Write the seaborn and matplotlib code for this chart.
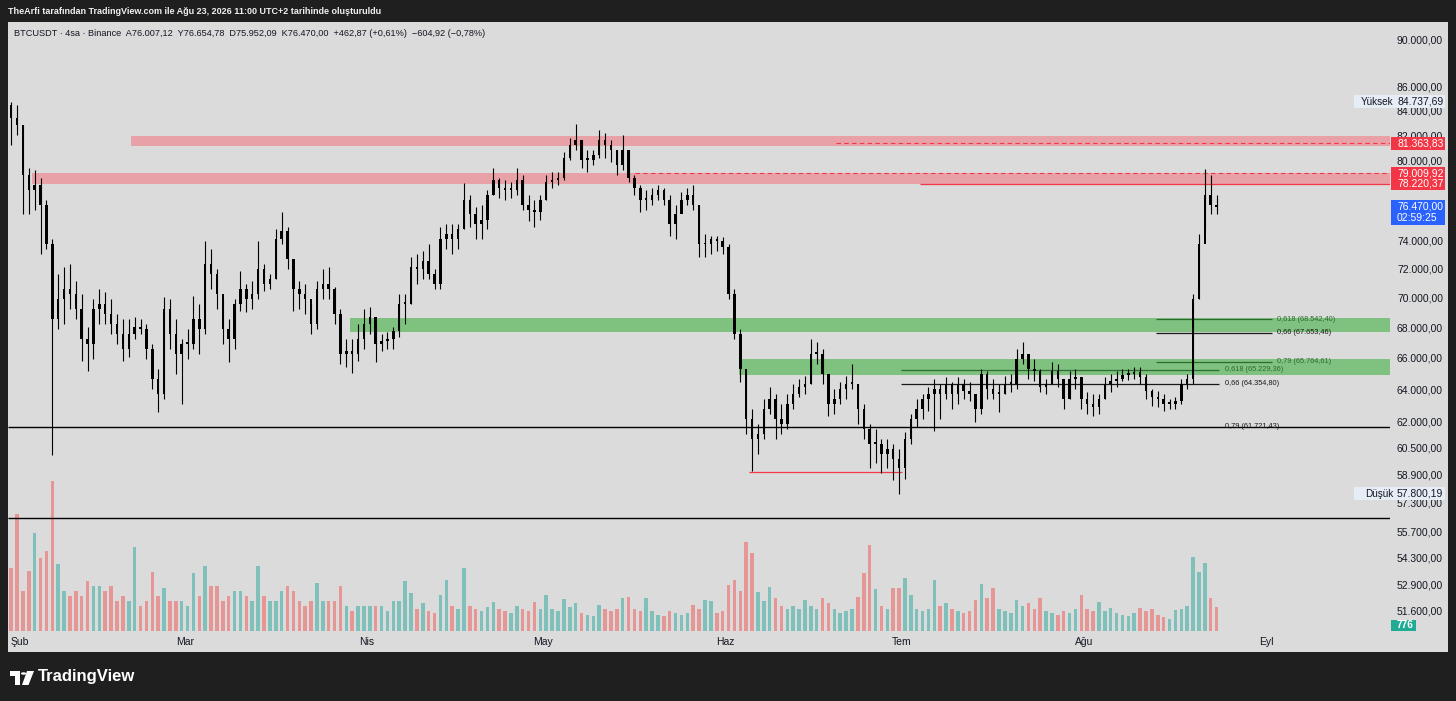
import numpy as np
import pandas as pd
import matplotlib
matplotlib.use("Agg")
import matplotlib.pyplot as plt
import seaborn as sns
from matplotlib.patches import Rectangle, Circle, Polygon
from matplotlib.ticker import NullLocator, FixedLocator

# ---------------- data (daily) ----------------
first_day = "2026-01-30"
open_first_k = 84.48
high_k = [84.74, 84.48, 82.85, 79.46, 79.30, 78.69, 77.02, 74.09, 71.61, 72.10,
          72.31, 71.12, 70.23, 68.02, 69.89, 70.58, 70.37, 69.89, 68.89, 68.55,
          68.55, 68.69, 68.55, 68.22, 66.91, 65.29, 70.02, 69.89, 68.55, 67.23,
          67.88, 70.09, 69.56, 73.95, 73.37, 71.96, 69.89, 68.55, 69.89, 71.82,
          70.92, 71.12, 73.95, 72.31, 71.61, 74.81, 76.06, 74.96, 72.31, 71.12,
          70.92, 69.56, 71.12, 71.96, 72.10, 70.72, 69.22, 67.23, 67.23, 68.22,
          69.22, 69.36, 68.55, 67.56, 67.69, 68.02, 70.23, 70.23, 72.81, 73.02,
          73.23, 73.73, 71.96, 74.96, 75.18, 75.18, 75.18, 78.31, 77.40, 76.43,
          76.65, 77.78, 79.46, 78.69, 78.54, 78.39, 79.46, 78.92, 77.40, 77.02,
          77.40, 78.92, 79.15, 79.15, 80.70, 81.81, 82.90, 81.65, 80.86, 80.86,
          82.45, 82.21, 81.65, 80.86, 82.05, 80.86, 78.92, 78.16, 77.78, 77.93,
          78.16, 77.93, 77.40, 76.65, 77.63, 77.93, 78.16, 76.65, 74.45, 74.31,
          74.31, 74.23, 73.73, 70.58, 67.88, 65.29, 62.80, 61.89, 63.42, 64.16,
          63.73, 63.11, 63.73, 64.35, 64.66, 64.85, 67.23, 67.03, 66.58, 64.98,
          64.04, 64.47, 64.85, 65.61, 64.35, 63.11, 61.89, 61.59, 61.00, 61.00,
          60.70, 60.41, 61.41, 62.50, 63.42, 63.73, 64.16, 64.66, 64.35, 64.79,
          64.47, 64.79, 64.66, 64.47, 63.73, 65.29, 65.16, 64.66, 64.35, 64.85,
          64.98, 66.58, 67.03, 66.26, 65.93, 65.29, 64.66, 65.74, 65.61, 64.35,
          65.16, 65.29, 64.79, 63.85, 63.73, 63.73, 64.79, 64.98, 65.16, 65.29,
          65.29, 65.42, 65.42, 64.98, 64.04, 63.92, 63.73, 63.42, 63.54, 64.66,
          64.98, 70.23, 74.45, 79.38, 78.92, 77.40]
low_k = [81.25, 82.05, 75.91, 75.91, 76.28, 73.02, 73.37, 60.06, 67.88, 68.22,
         69.22, 68.55, 65.80, 65.16, 65.93, 68.22, 68.22, 67.56, 66.91, 65.80,
         66.06, 67.23, 67.56, 65.93, 64.04, 62.61, 63.42, 66.58, 64.98, 63.11,
         65.93, 66.58, 66.26, 67.56, 70.58, 69.22, 66.91, 65.74, 66.58, 69.09,
         69.02, 69.22, 69.89, 70.44, 70.58, 71.26, 73.73, 71.96, 69.09, 69.22,
         68.89, 67.56, 67.88, 69.89, 69.89, 68.22, 65.61, 65.42, 65.04, 65.80,
         66.58, 67.56, 65.74, 66.45, 66.58, 66.58, 67.36, 68.22, 69.56, 70.92,
         71.26, 71.26, 70.58, 70.58, 73.37, 73.02, 73.37, 74.81, 74.96, 74.09,
         74.09, 74.81, 77.40, 77.17, 77.02, 77.17, 77.40, 76.28, 75.40, 74.96,
         75.54, 77.02, 77.93, 78.16, 78.54, 80.08, 80.86, 79.46, 79.15, 79.69,
         80.24, 80.24, 79.92, 78.92, 79.30, 78.39, 77.40, 76.13, 76.28, 76.65,
         77.02, 76.65, 74.31, 74.09, 76.13, 76.65, 76.28, 72.81, 72.81, 73.02,
         73.23, 73.02, 69.89, 67.23, 64.47, 61.30, 59.08, 60.12, 61.00, 62.50,
         61.00, 61.30, 61.59, 62.80, 63.54, 63.73, 64.35, 65.61, 64.35, 62.38,
         62.50, 63.11, 63.42, 64.04, 61.89, 61.00, 59.25, 59.54, 58.96, 59.25,
         58.56, 57.80, 58.67, 60.70, 61.71, 62.20, 62.68, 61.47, 62.20, 63.42,
         62.80, 63.11, 63.42, 63.29, 62.01, 62.50, 63.42, 63.42, 62.62, 63.73,
         63.85, 64.04, 65.61, 64.66, 64.54, 63.85, 63.73, 64.35, 64.16, 62.80,
         63.42, 64.04, 62.80, 62.50, 62.38, 62.50, 63.42, 63.85, 64.16, 64.54,
         64.60, 64.66, 64.35, 63.42, 63.00, 62.93, 62.68, 62.80, 62.80, 63.11,
         64.04, 64.35, 69.89, 74.81, 75.91, 75.91]
close_k = [83.41, 82.85, 78.92, 77.78, 78.16, 76.65, 73.73, 68.55, 69.89, 70.58,
           70.23, 69.22, 67.23, 66.91, 69.22, 69.56, 68.89, 68.22, 67.56, 66.58,
           67.56, 68.02, 67.88, 66.58, 64.66, 63.73, 69.22, 67.56, 66.26, 66.91,
           66.91, 68.55, 67.88, 72.31, 71.61, 70.23, 67.88, 67.23, 69.56, 70.58,
           69.89, 70.23, 71.96, 70.92, 71.26, 74.09, 74.67, 72.66, 70.58, 70.23,
           69.89, 68.22, 70.58, 70.92, 70.58, 68.89, 66.26, 66.45, 66.26, 67.23,
           68.22, 68.69, 66.91, 67.10, 67.23, 67.75, 69.56, 69.56, 72.10, 71.96,
           72.52, 71.61, 70.92, 74.09, 74.45, 74.09, 74.81, 77.02, 75.91, 75.18,
           75.54, 77.40, 78.54, 77.93, 77.78, 77.78, 78.54, 76.65, 76.28, 76.13,
           77.02, 78.39, 78.54, 78.69, 80.24, 81.25, 81.65, 80.08, 80.08, 80.47,
           81.65, 81.25, 80.86, 79.69, 80.86, 78.69, 77.93, 77.02, 77.02, 77.40,
           77.78, 77.02, 75.18, 75.91, 77.02, 77.40, 76.65, 73.73, 73.73, 74.09,
           73.95, 73.52, 70.23, 67.56, 65.29, 62.20, 61.00, 61.30, 62.80, 63.42,
           62.20, 61.89, 63.11, 63.73, 64.16, 64.35, 66.26, 66.26, 64.98, 63.11,
           63.42, 64.04, 64.35, 64.35, 62.80, 61.59, 60.70, 60.70, 60.12, 60.41,
           59.82, 59.25, 61.00, 62.20, 62.80, 63.42, 63.73, 64.04, 63.73, 64.35,
           63.73, 64.35, 63.92, 63.73, 62.80, 64.98, 64.04, 63.73, 63.73, 64.35,
           64.35, 65.93, 66.26, 65.29, 65.16, 64.16, 64.35, 65.16, 64.66, 63.42,
           64.66, 64.79, 63.42, 63.11, 62.93, 63.42, 64.35, 64.54, 64.66, 64.92,
           64.98, 65.10, 64.79, 63.92, 63.54, 63.42, 63.11, 63.11, 63.29, 64.35,
           64.66, 69.89, 73.73, 77.40, 76.65, 76.47]
volume = [63, 117, 40, 60, 98, 73, 80, 150, 67, 40, 35, 40, 35, 50, 45, 45, 40, 45,
          30, 35, 30, 84, 25, 30, 59, 35, 43, 30, 30, 30, 25, 58, 35, 65, 45, 45,
          30, 35, 40, 40, 35, 30, 65, 35, 30, 30, 40, 45, 40, 30, 25, 30, 48, 30,
          30, 30, 45, 25, 20, 25, 25, 25, 25, 25, 20, 30, 30, 50, 38, 22, 28, 20,
          18, 36, 51, 25, 22, 63, 25, 22, 20, 24, 29, 22, 20, 18, 25, 22, 20, 29,
          22, 36, 22, 20, 32, 24, 28, 18, 16, 15, 26, 22, 20, 22, 33, 34, 22, 20,
          33, 20, 16, 15, 20, 18, 16, 18, 26, 22, 31, 30, 18, 20, 46, 51, 40, 89,
          78, 39, 30, 44, 33, 25, 22, 25, 22, 31, 25, 22, 33, 28, 22, 18, 20, 22,
          34, 58, 86, 42, 25, 22, 43, 43, 53, 36, 22, 20, 22, 51, 25, 28, 22, 20,
          18, 20, 31, 47, 33, 43, 22, 20, 18, 31, 25, 28, 22, 33, 20, 18, 16, 20,
          18, 22, 36, 22, 20, 29, 20, 23, 18, 16, 15, 18, 23, 20, 22, 16, 14, 12,
          21, 22, 25, 74, 59, 68, 33, 24]

month_labels = ["Şub", "Mar", "Nis", "May", "Haz", "Tem", "Ağu", "Eyl"]
month_starts = ["2026-02-01", "2026-03-01", "2026-04-01", "2026-05-01",
                "2026-06-01", "2026-07-01", "2026-08-01", "2026-09-01"]
price_ticks = [90000, 86000, 84000, 82000, 80000, 74000, 72000, 70000, 68000,
               66000, 64000, 62000, 60500, 58900, 57300, 55700, 54300, 52900, 51600]

resistance_zones = [(81150, 81950, "2026-02-19 21:00"), (78220.37, 79009.92, "2026-02-03 00:00")]
support_zones = [(67700, 68650, "2026-03-29 02:00"), (64910, 65930, "2026-06-03 07:00")]
fib_upper = [("0,618", 68542.40), ("0,66", 67653.46), ("0,79", 65764.61)]
fib_lower = [("0,618", 65229.36), ("0,66", 64354.80), ("0,79", 61721.43)]
red_levels = [81363.83, 79009.92, 78220.37]
last_price, countdown = 76470.00, "02:59:25"
range_high, range_low = 84737.69, 57800.19
base_line = 56450
swing_low_line = 59050
last_volume_label = "776"

# ---------------- helpers ----------------
T0 = pd.Timestamp("2026-02-01")
def dpos(ts):
    return (pd.Timestamp(ts) - T0) / pd.Timedelta(days=1)

def fmt_tr(v):
    s = f"{v:,.2f}"
    return s.replace(",", "#").replace(".", ",").replace("#", ".")

W, H = 1456, 701
sns.set_theme(style="white")
plt.rcParams["font.family"] = ["Liberation Sans", "DejaVu Sans"]
plt.rcParams["axes.unicode_minus"] = False

fig = plt.figure(figsize=(W / 100, H / 100), dpi=100, facecolor="#1f1f1f")

def fx(px):
    return px / W
def fy(py):
    return 1 - py / H

# chart panel background
fig.add_artist(Rectangle((fx(8), fy(652)), fx(1440), 630 / H, transform=fig.transFigure,
                         facecolor="#dbdbdb", edgecolor="none", zorder=0))

rect = [fx(8), fy(631), fx(1382), 609 / H]
ax_vol = fig.add_axes(rect, facecolor="none")
ax = fig.add_axes(rect, facecolor="none", sharex=ax_vol)

days = pd.date_range(first_day, periods=len(close_k), freq="D")
x = np.array([dpos(d) for d in days]) + 0.5
close = np.array(close_k) * 1000
high = np.array(high_k) * 1000
low = np.array(low_k) * 1000
opn = np.concatenate([[open_first_k * 1000], close[:-1]])
up = close >= opn

xmin, xmax = -2.04, 233.0
ax.set_xlim(xmin, xmax)
ax.set_yscale("log")
ax.set_ylim(50560, 91594)
ax_vol.set_ylim(0, 609)

# volume
vol_colors = np.where(up, "#26a69a", "#ef5350")
ax_vol.bar(x, volume, width=0.6, color=vol_colors, alpha=0.5, linewidth=0)

# zones
for lo, hi, start in resistance_zones:
    ax.fill_between([dpos(start), xmax], lo, hi, color="#e8a1a7", linewidth=0, zorder=1)
for lo, hi, start in support_zones:
    ax.fill_between([dpos(start), xmax], lo, hi, color="#7fc17f", linewidth=0, zorder=1)

# red levels
ax.hlines(red_levels[0], dpos("2026-06-19 19:00"), xmax, color="#f23645", lw=0.8, ls=(0, (4, 3)), zorder=2)
ax.hlines(red_levels[1], dpos("2026-05-16 14:00"), xmax, color="#f23645", lw=0.8, ls=(0, (4, 3)), zorder=2)
ax.hlines(red_levels[2], dpos("2026-07-04 00:00"), xmax, color="#f23645", lw=0.9, zorder=2)
ax.hlines(swing_low_line, dpos("2026-06-05 00:00"), dpos("2026-07-01 00:00"), color="#f23645", lw=0.9, zorder=2)

# full width lines
ax.hlines([fib_lower[2][1], base_line], xmin, xmax, color="black", lw=1.0, zorder=2)

# fib lines
fu0, fu1 = dpos("2026-08-13 05:00"), dpos("2026-09-01 22:00")
for (lab, v), col in zip(fib_upper, ["#2e6b30", "#1a1a1a", "#2e6b30"]):
    ax.hlines(v, fu0, fu1, color=col, lw=0.9, zorder=2)
    ax.text(dpos("2026-09-02 19:00"), v, f"{lab} ({fmt_tr(v)})", fontsize=5.3,
            color=col, va="center", ha="left", zorder=5)
fl0, fl1 = dpos("2026-06-30 19:00"), dpos("2026-08-23 22:00")
for (lab, v), col in zip(fib_lower[:2], ["#2e6b30", "#1a1a1a"]):
    ax.hlines(v, fl0, fl1, color=col, lw=0.9, zorder=2)
for (lab, v), col in zip(fib_lower, ["#2e6b30", "#1a1a1a", "#1a1a1a"]):
    ax.text(dpos("2026-08-24 22:00"), v, f"{lab} ({fmt_tr(v)})", fontsize=5.3,
            color=col, va="center", ha="left", zorder=5)

# candles
ax.vlines(x, low, high, color="black", lw=0.8, zorder=3)
body_lo = np.minimum(opn, close)
body_h = np.maximum(np.abs(close - opn), close * 0.0015)
ax.bar(x, body_h, bottom=body_lo, width=0.42, color="black", linewidth=0, zorder=4)

# axes styling
for a in (ax, ax_vol):
    for s in a.spines.values():
        s.set_visible(False)
ax_vol.set_yticks([])
ax_vol.tick_params(axis="x", which="both", length=0, labelbottom=False)
ax.yaxis.tick_right()
ax.yaxis.set_major_locator(FixedLocator(price_ticks))
ax.yaxis.set_minor_locator(NullLocator())
ax.set_yticklabels([fmt_tr(v) for v in price_ticks])
ax.tick_params(axis="y", length=0, pad=5, labelsize=7.5, labelcolor="#131722")
ax.set_xticks([dpos(m) for m in month_starts])
ax.set_xticklabels(month_labels)
ax.tick_params(axis="x", length=0, pad=4, labelsize=7.5, labelcolor="#131722")
ax.grid(False)
ax_vol.grid(False)

# ------------- price scale boxes -------------
def ypix(price):
    return H - ax.transData.transform((0, price))[1]

def box(py_top, py_bot, px_left, px_right, color):
    fig.add_artist(Rectangle((fx(px_left), fy(py_bot)), fx(px_right - px_left), (py_bot - py_top) / H,
                             transform=fig.transFigure, facecolor=color, edgecolor="none", zorder=5))

def ftext(px, py, s, **kw):
    fig.text(fx(px), fy(py), s, transform=fig.transFigure, zorder=6, **kw)

# high / low markers
for val, lab in [(range_high, "Yüksek"), (range_low, "Düşük")]:
    yc = ypix(val)
    box(yc - 6.5, yc + 6.5, 1354, 1445, "#e6edf5")
    ftext(1393, yc, lab, fontsize=7.2, color="#131722", ha="right", va="center")
    ftext(1397, yc, fmt_tr(val), fontsize=7.5, color="#131722", ha="left", va="center")

for v in red_levels:
    yc = ypix(v)
    box(yc - 6.5, yc + 6.5, 1391, 1445, "#f23645")
    ftext(1397, yc, fmt_tr(v), fontsize=7.5, color="white", ha="left", va="center")

yc = ypix(last_price)
box(yc - 6.5, yc + 18, 1391, 1445, "#2962ff")
ftext(1397, yc, fmt_tr(last_price), fontsize=7.5, color="white", ha="left", va="center")
ftext(1397, yc + 11.5, countdown, fontsize=7.5, color="white", ha="left", va="center")

box(619.5, 631, 1391, 1416, "#22ab94")
ftext(1397, 625.5, last_volume_label, fontsize=7.2, color="white", ha="left", va="center", fontweight="bold")

# ------------- header / legend / footer -------------
ftext(8, 11, "TheArfi tarafından TradingView.com ile Ağu 23, 2026 11:00 UTC+2 tarihinde oluşturuldu",
      fontsize=6.5, color="#f0f0f0", ha="left", va="center", fontweight="bold")
ftext(14, 33, "BTCUSDT · 4sa · Binance  A76.007,12  Y76.654,78  D75.952,09  K76.470,00  +462,87 (+0,61%)  −604,92 (−0,78%)",
      fontsize=6.6, color="#131722", ha="left", va="center")

# TradingView logo
fig.add_artist(Rectangle((fx(10), fy(676)), fx(10), 5 / H, transform=fig.transFigure, facecolor="white", edgecolor="none"))
fig.add_artist(Rectangle((fx(15), fy(685)), fx(5), 14 / H, transform=fig.transFigure, facecolor="white", edgecolor="none"))
fig.add_artist(Circle((fx(23.5), fy(673.5)), 2.6 / W, transform=fig.transFigure, facecolor="white", edgecolor="none"))
fig.add_artist(Polygon([(fx(27), fy(671)), (fx(34), fy(671)), (fx(28.5), fy(685)), (fx(22), fy(685))],
                       closed=True, transform=fig.transFigure, facecolor="white", edgecolor="none"))
ftext(38, 677, "TradingView", fontsize=12, color="white", ha="left", va="center", fontweight="bold")

fig.savefig("out.png", dpi=100, facecolor=fig.get_facecolor())
